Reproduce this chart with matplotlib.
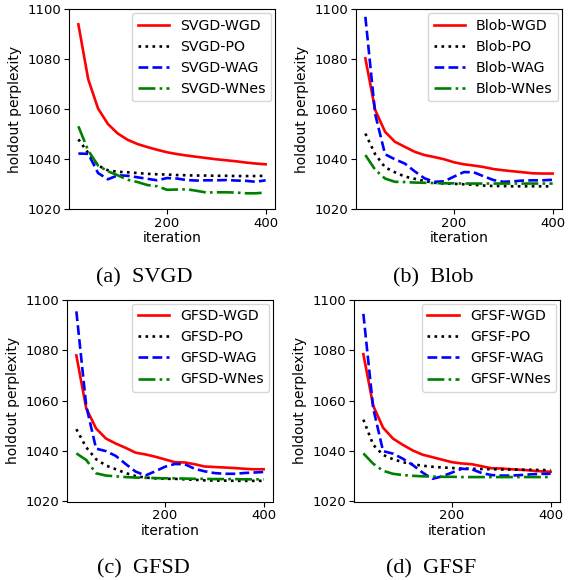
import matplotlib
matplotlib.use("Agg")
import matplotlib.pyplot as plt

ITERS = [20, 40, 60, 80, 100, 120, 140, 160, 180, 200,
         220, 240, 260, 280, 300, 320, 340, 360, 380, 400]

SVGD_WGD = [1094.0, 1072.0, 1060.3, 1054.1, 1050.3, 1047.8, 1046.1, 1044.9, 1043.8, 1042.8,
            1042.1, 1041.5, 1041.0, 1040.5, 1040.0, 1039.6, 1039.2, 1038.7, 1038.3, 1038.0]
SVGD_PO = [1048.0, 1042.5, 1037.5, 1035.6, 1035.0, 1034.8, 1034.5, 1034.2, 1034.0, 1033.9,
           1033.7, 1033.6, 1033.5, 1033.5, 1033.4, 1033.4, 1033.3, 1033.3, 1033.3, 1033.4]
SVGD_WAG = [1042.3, 1042.2, 1034.5, 1032.0, 1033.6, 1033.4, 1032.8, 1032.2, 1031.6, 1032.5,
            1032.3, 1031.7, 1031.5, 1031.6, 1031.6, 1031.7, 1031.5, 1031.4, 1031.0, 1031.6]
SVGD_WNES = [1053.2, 1043.5, 1037.5, 1035.2, 1033.6, 1031.8, 1030.9, 1029.7, 1029.2, 1027.8,
             1027.9, 1028.0, 1027.4, 1026.7, 1026.8, 1026.8, 1026.7, 1026.4, 1026.4, 1026.7]

BLOB_WGD = [1080.4, 1059.7, 1051.0, 1047.0, 1045.0, 1043.0, 1041.7, 1040.9, 1040.0, 1038.8,
            1038.0, 1037.5, 1036.9, 1036.1, 1035.6, 1035.2, 1034.8, 1034.4, 1034.3, 1034.3]
BLOB_PO = [1050.3, 1042.0, 1036.8, 1034.8, 1033.1, 1032.2, 1031.3, 1030.6, 1030.3, 1030.2,
           1030.0, 1029.8, 1029.5, 1029.3, 1029.3, 1029.2, 1029.2, 1029.2, 1029.2, 1029.2]
BLOB_WAG = [1097.0, 1058.0, 1042.0, 1040.0, 1038.3, 1035.2, 1032.4, 1031.0, 1031.2, 1033.1,
            1034.9, 1034.8, 1033.2, 1031.7, 1031.0, 1031.2, 1031.5, 1031.6, 1031.6, 1031.8]
BLOB_WNES = [1041.7, 1035.8, 1032.3, 1031.0, 1030.9, 1030.7, 1030.6, 1030.5, 1030.4, 1030.4,
             1030.3, 1030.3, 1030.3, 1030.3, 1030.3, 1030.3, 1030.3, 1030.3, 1030.3, 1030.3]

GFSD_WGD = [1078.0, 1057.0, 1049.0, 1045.0, 1043.0, 1041.3, 1039.4, 1038.7, 1037.8, 1036.7,
            1035.6, 1035.5, 1034.8, 1033.9, 1033.7, 1033.5, 1033.3, 1033.0, 1032.8, 1032.8]
GFSD_PO = [1048.7, 1041.5, 1036.8, 1034.3, 1032.8, 1031.3, 1030.1, 1029.5, 1029.2, 1029.0,
           1029.0, 1028.8, 1028.6, 1028.4, 1028.3, 1028.3, 1028.2, 1028.2, 1028.2, 1028.2]
GFSD_WAG = [1095.5, 1058.0, 1041.0, 1040.0, 1038.1, 1034.9, 1031.9, 1030.3, 1032.0, 1033.8,
            1034.9, 1034.8, 1033.0, 1032.0, 1031.3, 1031.0, 1031.0, 1031.3, 1031.5, 1031.7]
GFSD_WNES = [1039.1, 1036.5, 1031.2, 1030.3, 1030.0, 1029.7, 1029.5, 1029.4, 1029.3, 1029.2,
             1029.2, 1029.1, 1029.0, 1029.0, 1028.9, 1028.9, 1028.9, 1028.8, 1028.8, 1028.8]

GFSF_WGD = [1078.5, 1058.0, 1049.3, 1045.0, 1042.5, 1040.3, 1038.6, 1037.6, 1036.6, 1035.6,
            1035.1, 1034.8, 1034.0, 1033.2, 1033.1, 1032.8, 1032.6, 1032.3, 1032.0, 1031.8]
GFSF_PO = [1052.5, 1042.5, 1038.5, 1036.8, 1035.6, 1034.8, 1034.2, 1033.8, 1033.5, 1033.3,
           1033.1, 1033.0, 1032.9, 1032.8, 1032.7, 1032.7, 1032.6, 1032.6, 1032.5, 1032.5]
GFSF_WAG = [1094.5, 1057.0, 1040.0, 1039.0, 1037.0, 1034.5, 1031.5, 1029.0, 1030.0, 1031.5,
            1033.0, 1032.8, 1031.3, 1030.5, 1030.3, 1030.3, 1030.5, 1030.8, 1031.0, 1031.0]
GFSF_WNES = [1039.1, 1035.0, 1032.2, 1031.0, 1030.5, 1030.2, 1030.0, 1029.9, 1029.8, 1029.8,
             1029.7, 1029.7, 1029.7, 1029.7, 1029.7, 1029.7, 1029.7, 1029.7, 1029.7, 1029.7]

SUFFIXES = ["WGD", "PO", "WAG", "WNes"]
STYLES = [("red", "-"), ("black", ":"), ("blue", "--"), ("green", "-.")]
Y_TICKS = [1020, 1040, 1060, 1080, 1100]
X_TICKS = [200, 400]

W, H = 568, 580

# (name, caption, series, axes box in pixels: left, top, width, height, caption centre x, caption baseline y)
PANELS = [
    ("SVGD", "(a)  SVGD", [SVGD_WGD, SVGD_PO, SVGD_WAG, SVGD_WNES], (69, 9.3, 206, 200), 144, 282),
    ("Blob", "(b)  Blob", [BLOB_WGD, BLOB_PO, BLOB_WAG, BLOB_WNES], (356, 9.3, 206, 200), 433, 282),
    ("GFSD", "(c)  GFSD", [GFSD_WGD, GFSD_PO, GFSD_WAG, GFSD_WNES], (67, 300, 206, 201.5), 143, 573),
    ("GFSF", "(d)  GFSF", [GFSF_WGD, GFSF_PO, GFSF_WAG, GFSF_WNES], (354, 300, 206, 201.5), 431, 573),
]


def draw_panel(fig, name, series, box):
    left, top, width, height = box
    ax = fig.add_axes([left / W, (H - top - height) / H, width / W, height / H])
    for values, suffix, (color, ls) in zip(series, SUFFIXES, STYLES):
        ax.plot(ITERS, values, color=color, linestyle=ls, linewidth=1.9, label=f"{name}-{suffix}")
    ax.set_ylim(1020, 1100)
    ax.set_yticks(Y_TICKS)
    ax.set_xticks(X_TICKS)
    ax.tick_params(labelsize=9.5, pad=2)
    ax.set_xlabel("iteration", fontsize=10, labelpad=1)
    ax.set_ylabel("holdout perplexity", fontsize=10)
    ax.legend(loc="upper right", fontsize=10.2, borderaxespad=0.25, handlelength=2.2)
    return ax


def main():
    fig = plt.figure(figsize=(W / 100, H / 100), dpi=100)
    for name, caption, series, box, cx, cy in PANELS:
        draw_panel(fig, name, series, box)
        fig.text(cx / W, (H - cy) / H, caption, ha="center", va="baseline",
                 fontsize=16, family="Liberation Serif")
    fig.savefig("out.png", dpi=100)
    plt.close(fig)


if __name__ == "__main__":
    main()
